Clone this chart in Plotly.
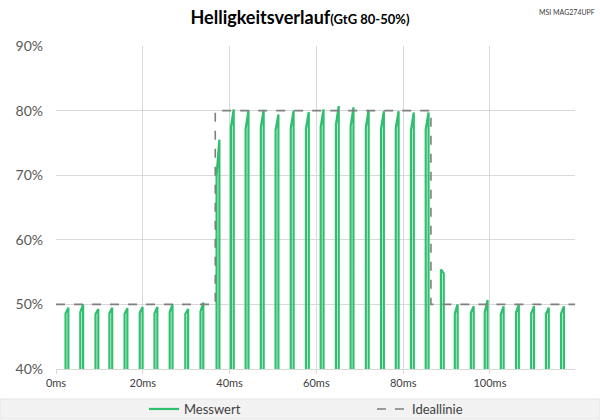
import plotly.graph_objects as go

# ---- data ----
pulse_start_ms = [2.2, 5.6, 9.1, 12.3, 15.8, 19.3, 22.7, 26.2, 29.8, 33.3,
                  37.0,
                  40.3, 43.7, 47.2, 50.6, 54.1, 57.6, 61.0, 64.5, 67.9, 71.4, 74.9, 78.3, 81.8, 85.2,
                  88.7,
                  91.9, 95.6, 98.8, 102.5, 106.0, 109.5, 112.9, 116.4]
pulse_step_pct = [48.6, 48.8, 48.5, 48.6, 48.5, 48.7, 48.6, 48.8, 48.5, 48.9,
                  70.0,
                  77.4, 77.2, 77.4, 77.0, 77.3, 77.2, 77.5, 77.8, 77.6, 77.4, 77.2, 77.3, 77.0, 77.1,
                  55.4,
                  48.6, 48.7, 48.8, 48.5, 48.7, 48.6, 48.5, 48.6]
pulse_peak_pct = [49.5, 50.0, 49.3, 49.5, 49.4, 49.6, 49.6, 50.0, 49.3, 50.3,
                  75.5,
                  80.2, 80.0, 80.1, 79.4, 80.0, 79.8, 80.2, 80.7, 80.5, 80.1, 79.9, 79.9, 79.7, 79.7,
                  54.8,
                  50.0, 49.7, 50.7, 49.7, 50.0, 49.7, 49.5, 49.7]
off_level_pct = 0.0          # light off between pulses (below visible range)
pulse_width_ms = 0.65

ideal_x = [0, 36.7, 36.7, 86.4, 86.4, 119.6]
ideal_y = [50, 50, 80, 80, 50, 50]

x_range = [0, 119.6]
y_range = [40, 90]
x_ticks = [0, 20, 40, 60, 80, 100]
x_tick_labels = ["0ms", "20ms", "40ms", "60ms", "80ms", "100ms"]
y_ticks = [40, 50, 60, 70, 80, 90]
y_tick_labels = ["40%", "50%", "60%", "70%", "80%", "90%"]

# ---- build measured waveform from the pulse table ----
mx, my = [x_range[0]], [off_level_pct]
for t, s, p in zip(pulse_start_ms, pulse_step_pct, pulse_peak_pct):
    mx += [t, t, t + pulse_width_ms, t + pulse_width_ms]
    my += [off_level_pct, s, p, off_level_pct]
mx.append(x_range[1])
my.append(off_level_pct)

FONT = "Lato"
GREEN = "#2fbf6e"

fig = go.Figure()
fig.add_trace(go.Scatter(x=mx, y=my, mode="lines", name="Messwert",
                         line=dict(color=GREEN, width=2.2)))
fig.add_trace(go.Scatter(x=ideal_x, y=ideal_y, mode="lines", name="Ideallinie",
                         line=dict(color="#7f7f7f", width=1.6, dash="dash")))

L, R, T, B = 56, 25, 46, 51
pw, ph = 600 - L - R, 420 - T - B

def px(xpix):
    return (xpix - L) / pw

def py(ypix):
    return (420 - B - ypix) / ph

fig.update_layout(
    width=600, height=420,
    margin=dict(l=L, r=R, t=T, b=B, autoexpand=False),
    paper_bgcolor="white", plot_bgcolor="white",
    font=dict(family=FONT, color="#595959"),
    title=dict(text="<b>Helligkeitsverlauf</b><span style='font-size:13px'><b>(GtG 80-50%)</b></span>",
               x=0.5, xanchor="center", y=1 - 18 / 420, yanchor="middle",
               yref="container", font=dict(size=18, color="#000000", family=FONT)),
    xaxis=dict(range=x_range, tickvals=x_ticks, ticktext=x_tick_labels,
               showgrid=True, gridcolor="#d9d9d9", gridwidth=1,
               showline=True, linecolor="#d9d9d9", linewidth=1,
               ticks="outside", ticklen=4, tickcolor="#d9d9d9",
               tickfont=dict(size=11, color="#404040"), zeroline=False),
    yaxis=dict(range=y_range, tickvals=y_ticks, ticktext=y_tick_labels,
               showgrid=True, gridcolor="#d9d9d9", gridwidth=1,
               showline=False, ticks="", ticklabelstandoff=12,
               tickfont=dict(size=14, color="#595959"), zeroline=False),
    showlegend=True,
    legend=dict(orientation="h", xref="container", yref="container",
                x=144 / 600, xanchor="left", y=1 - 409 / 420, yanchor="middle",
                bgcolor="rgba(0,0,0,0)", font=dict(size=13, color="#404040"),
                itemwidth=30, entrywidth=183, entrywidthmode="pixels"),
    shapes=[dict(type="rect", xref="paper", yref="paper",
                 x0=px(0), x1=px(600), y0=py(419), y1=py(399),
                 fillcolor="#f2f2f2", line=dict(color="#e4e4e4", width=1), layer="below")],
    annotations=[dict(text="MSI MAG274UPF", xref="paper", yref="paper",
                      x=px(597), y=py(12), xanchor="right", yanchor="middle",
                      showarrow=False, font=dict(size=7, color="#404040", family=FONT))],
)

fig.write_html("out.html", config={"displayModeBar": False},
               post_script="document.body.style.margin='0';document.body.style.overflow='hidden';")
